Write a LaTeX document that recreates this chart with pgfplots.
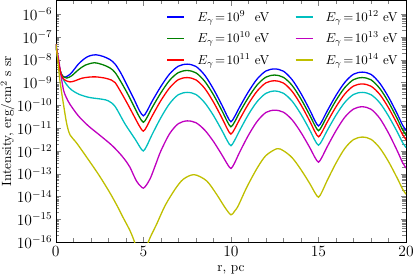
\documentclass[border=0pt]{standalone}
\usepackage{pgfplots}
\pgfplotsset{compat=1.18}
\definecolor{mplb}{rgb}{0,0,1}
\definecolor{mplg}{rgb}{0,0.5,0}
\definecolor{mplr}{rgb}{1,0,0}
\definecolor{mplc}{rgb}{0,0.75,0.75}
\definecolor{mplm}{rgb}{0.75,0,0.75}
\definecolor{mply}{rgb}{0.75,0.75,0}
\begin{document}
\begin{tikzpicture}
\begin{axis}[
  scale only axis, width=270pt, height=186.4pt,
  ymode=log, xmin=0, xmax=20, ymin=1e-16, ymax=4.1e-6,
  xtick={0,5,10,15,20}, minor x tick num=4,
  ytick={1e-16,1e-15,1e-14,1e-13,1e-12,1e-11,1e-10,1e-9,1e-8,1e-7,1e-6},
  tick align=inside,
  tick label style={font=\large},
  yticklabel style={inner xsep=2.5pt},
  xticklabel style={inner xsep=1pt},
  xlabel={r, pc}, ylabel={Intensity, erg/cm$^2$ s sr},
  label style={font=\fontsize{10.3}{12}\selectfont},
  ylabel style={inner sep=0.5pt}, ylabel shift=-1.5pt,
  legend columns=2,
  legend style={draw=none, fill=none, at={(0.995,0.98)}, anchor=north east, row sep=3pt,
    /tikz/every odd column/.append style={column sep=7.5pt},
    /tikz/every even column/.append style={column sep=17.5pt}},
  legend image code/.code={\draw[#1,line width=1.3pt] (0cm,0cm) -- (0.46cm,0cm);},
  every axis plot/.append style={line width=1pt, smooth},
]
\addplot[color=mplb] coordinates {(0,4.90e-8)(0.1,1.41e-8)(0.2,5.01e-9)(0.3,2.63e-9)(0.42,1.82e-9)(0.55,1.74e-9)(0.7,2.00e-9)(0.91,2.75e-9)(1.29,6.46e-9)(1.67,1.17e-8)(1.95,1.51e-8)(2.3,1.66e-8)(2.7,1.41e-8)(3.1,1.02e-8)(3.39,6.46e-9)(3.73,2.51e-9)(4.11,6.61e-10)(4.45,2.00e-10)(4.77,6.03e-11)(5.0,3.47e-11)(5.2,5.50e-11)(5.5,1.51e-10)(6.0,6.76e-10)(6.5,2.40e-9)(7.0,5.25e-9)(7.5,6.46e-9)(8.0,5.13e-9)(8.5,2.14e-9)(9.0,5.25e-10)(9.5,9.77e-11)(9.8,3.24e-11)(10,1.91e-11)(10.2,3.09e-11)(10.5,8.51e-11)(11,3.98e-10)(11.5,1.45e-9)(12,3.24e-9)(12.5,3.98e-9)(13,3.16e-9)(13.5,1.32e-9)(14,3.31e-10)(14.5,6.31e-11)(14.8,2.09e-11)(15,1.26e-11)(15.2,2.04e-11)(15.5,5.75e-11)(16,2.75e-10)(16.5,1.02e-9)(17,2.34e-9)(17.5,2.88e-9)(18,2.29e-9)(18.5,9.33e-10)(19,2.29e-10)(19.5,4.17e-11)(19.8,1.35e-11)(20,7.94e-12)};
\addlegendentry{$E_\gamma\!=\!10^{9\phantom{0}}$ eV}
\addplot[color=mplc] coordinates {(0,4.90e-8)(0.1,1.41e-8)(0.2,5.01e-9)(0.34,1.91e-9)(0.6,8.51e-10)(0.9,4.79e-10)(1.32,3.09e-10)(1.9,2.24e-10)(2.65,1.86e-10)(3.0,1.58e-10)(3.39,8.91e-11)(3.96,1.51e-11)(4.53,3.31e-12)(4.8,1.51e-12)(5.0,1.00e-12)(5.2,1.70e-12)(5.5,5.25e-12)(6.0,2.88e-11)(6.5,1.20e-10)(7.0,2.95e-10)(7.5,3.72e-10)(8.0,3.02e-10)(8.5,1.32e-10)(9.0,3.63e-11)(9.5,7.59e-12)(9.8,2.75e-12)(10,1.70e-12)(10.2,2.82e-12)(10.5,7.94e-12)(11,3.98e-11)(11.5,1.48e-10)(12,3.39e-10)(12.5,4.27e-10)(13,3.39e-10)(13.5,1.51e-10)(14,4.07e-11)(14.5,8.32e-12)(14.8,2.88e-12)(15,1.78e-12)(15.2,2.88e-12)(15.5,7.94e-12)(16,3.72e-11)(16.5,1.35e-10)(17,3.02e-10)(17.5,3.72e-10)(18,2.95e-10)(18.5,1.29e-10)(19,3.39e-11)(19.5,6.76e-12)(19.8,2.34e-12)(20,1.41e-12)};
\addlegendentry{$E_\gamma\!=\!10^{12}$ eV}
\addplot[color=mplg] coordinates {(0,4.90e-8)(0.1,1.41e-8)(0.2,5.01e-9)(0.3,2.51e-9)(0.45,1.78e-9)(0.63,1.58e-9)(0.91,2.00e-9)(1.29,3.63e-9)(1.67,5.75e-9)(2.2,7.41e-9)(2.7,6.03e-9)(3.1,4.37e-9)(3.39,2.75e-9)(3.73,1.05e-9)(4.11,3.16e-10)(4.45,9.55e-11)(4.77,3.16e-11)(5.0,1.82e-11)(5.2,2.88e-11)(5.5,7.94e-11)(6.0,3.55e-10)(6.5,1.26e-9)(7.0,2.75e-9)(7.5,3.39e-9)(8.0,2.69e-9)(8.5,1.15e-9)(9.0,2.95e-10)(9.5,5.62e-11)(9.8,1.91e-11)(10,1.15e-11)(10.2,1.82e-11)(10.5,5.01e-11)(11,2.24e-10)(11.5,7.94e-10)(12,1.74e-9)(12.5,2.14e-9)(13,1.70e-9)(13.5,7.41e-10)(14,1.91e-10)(14.5,3.72e-11)(14.8,1.29e-11)(15,7.76e-12)(15.2,1.26e-11)(15.5,3.47e-11)(16,1.66e-10)(16.5,6.03e-10)(17,1.35e-9)(17.5,1.66e-9)(18,1.32e-9)(18.5,5.50e-10)(19,1.38e-10)(19.5,2.57e-11)(19.8,8.51e-12)(20,5.01e-12)};
\addlegendentry{$E_\gamma\!=\!10^{10}$ eV}
\addplot[color=mplm] coordinates {(0,4.90e-8)(0.15,1.26e-8)(0.3,2.00e-9)(0.45,4.47e-10)(0.6,2.24e-10)(0.81,1.12e-10)(1.29,3.47e-11)(1.86,1.26e-11)(2.5,5.01e-12)(3.2,1.78e-12)(3.7,7.08e-13)(4.05,3.24e-13)(4.24,1.91e-13)(4.6,4.90e-14)(4.85,2.82e-14)(5.0,2.34e-14)(5.15,3.02e-14)(5.4,6.31e-14)(5.7,2.51e-13)(6.0,1.00e-12)(6.5,5.75e-12)(7.0,1.58e-11)(7.5,2.09e-11)(8.0,1.74e-11)(8.5,8.32e-12)(9.0,2.63e-12)(9.5,6.46e-13)(9.8,2.63e-13)(10,1.70e-13)(10.2,2.88e-13)(10.5,8.91e-13)(11,4.90e-12)(11.5,2.00e-11)(12,4.90e-11)(12.5,6.17e-11)(13,5.01e-11)(13.5,2.29e-11)(14,6.46e-12)(14.5,1.41e-12)(14.8,5.13e-13)(15,3.24e-13)(15.2,5.37e-13)(15.5,1.55e-12)(16,7.76e-12)(16.5,3.02e-11)(17,6.92e-11)(17.5,8.71e-11)(18,6.76e-11)(18.5,2.69e-11)(19,6.03e-12)(19.5,1.00e-12)(19.8,3.09e-13)(20,1.78e-13)};
\addlegendentry{$E_\gamma\!=\!10^{13}$ eV}
\addplot[color=mplr] coordinates {(0,4.90e-8)(0.1,1.41e-8)(0.2,5.01e-9)(0.34,2.00e-9)(0.5,1.32e-9)(0.81,1.07e-9)(1.1,1.20e-9)(1.48,1.55e-9)(1.9,1.74e-9)(2.3,1.78e-9)(2.8,1.58e-9)(3.18,1.29e-9)(3.39,1.00e-9)(3.73,3.72e-10)(4.11,1.12e-10)(4.49,3.16e-11)(4.77,1.26e-11)(5.0,7.41e-12)(5.2,1.20e-11)(5.5,3.39e-11)(6.0,1.62e-10)(6.5,5.89e-10)(7.0,1.35e-9)(7.5,1.66e-9)(8.0,1.32e-9)(8.5,5.62e-10)(9.0,1.41e-10)(9.5,2.69e-11)(9.8,9.12e-12)(10,5.50e-12)(10.2,8.91e-12)(10.5,2.45e-11)(11,1.17e-10)(11.5,4.27e-10)(12,9.77e-10)(12.5,1.20e-9)(13,9.55e-10)(13.5,4.07e-10)(14,1.05e-10)(14.5,2.04e-11)(14.8,6.92e-12)(15,4.17e-12)(15.2,6.76e-12)(15.5,1.86e-11)(16,8.71e-11)(16.5,3.16e-10)(17,7.08e-10)(17.5,8.71e-10)(18,6.92e-10)(18.5,3.02e-10)(19,7.76e-11)(19.5,1.51e-11)(19.8,5.25e-12)(20,3.16e-12)};
\addlegendentry{$E_\gamma\!=\!10^{11}$ eV}
\addplot[color=mply] coordinates {(0,4.90e-8)(0.08,1.78e-8)(0.24,1.20e-9)(0.44,1.12e-10)(0.63,1.51e-11)(0.82,5.01e-12)(1.2,2.19e-12)(1.96,3.24e-13)(2.5,7.94e-14)(3.07,1.55e-14)(3.5,3.98e-15)(3.83,1.26e-15)(4.24,3.16e-16)(4.5,1.00e-16)(4.7,3.16e-17)(4.9,1.00e-17)(5.1,2.00e-17)(5.28,1.00e-16)(5.76,6.17e-16)(6.24,3.98e-15)(6.81,2.09e-14)(7.28,5.75e-14)(7.9,9.12e-14)(8.61,4.90e-14)(9.18,1.26e-14)(9.66,3.31e-15)(10.0,1.58e-15)(10.2,2.24e-15)(10.42,3.98e-15)(10.9,2.51e-14)(11.5,1.78e-13)(12.0,6.31e-13)(12.63,1.26e-12)(13.0,1.02e-12)(13.5,5.01e-13)(14.0,1.51e-13)(14.5,3.72e-14)(14.8,1.45e-14)(15,9.33e-15)(15.2,1.62e-14)(15.5,5.13e-14)(16,2.95e-13)(16.5,1.29e-12)(17,3.16e-12)(17.5,4.07e-12)(18,3.24e-12)(18.5,1.35e-12)(19,3.39e-13)(19.5,6.31e-14)(19.8,2.14e-14)(20,1.26e-14)};
\addlegendentry{$E_\gamma\!=\!10^{14}$ eV}
\end{axis}
\end{tikzpicture}
\end{document}
